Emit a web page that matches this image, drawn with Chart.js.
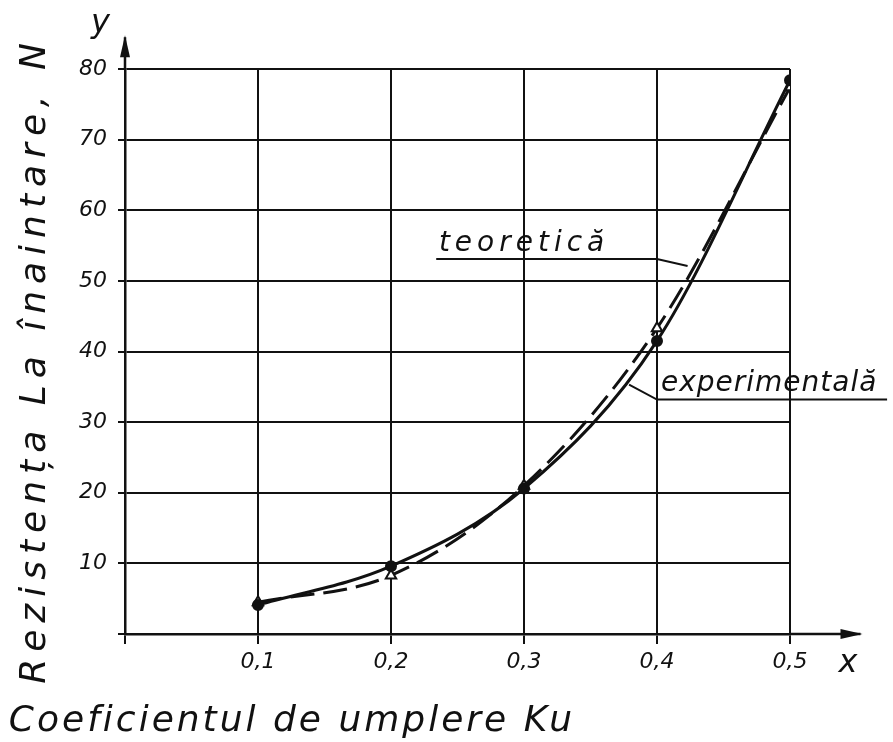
<!DOCTYPE html>
<html>
<head>
<meta charset="utf-8">
<script src="https://cdn.jsdelivr.net/npm/chart.js@4.4.1/dist/chart.umd.min.js"></script>
<style>
  html, body { margin: 0; padding: 0; background: #fff; }
  #wrap { width: 893px; height: 742px; }
</style>
</head>
<body>
<div id="wrap"><canvas id="ResChart"></canvas></div>
<script>
// fill coefficient Ku
const ku = [0.1, 0.2, 0.3, 0.4, 0.5];
// resistance, N
const teoretica = [4.1, 9.6, 20.6, 41.5, 78.4];
const experimentala = [4.5, 8.3, 21.0, 43.3, 77.4];

const yTitle = 'Rezistența La înaintare, N';
const xTitle = 'Coeficientul de umplere Ku';

const ink = '#111';
const font = 'DejaVu Sans';

function pts(ys) {
    return ku.map((x, i) => ({ x: x, y: ys[i] }));
}

// arrows, axis letters, titles, callout labels
const drawing = {
    id: 'drawing',
    afterDraw(chart) {
        const ctx = chart.ctx;
        const xs = chart.scales.x;
        const ys = chart.scales.y;
        const a = chart.chartArea;
        ctx.save();
        ctx.strokeStyle = ink;
        ctx.fillStyle = ink;
        ctx.lineWidth = 2.5;

        // axis extensions with arrows
        const xEnd = xs.getPixelForValue(0.553);
        const yEnd = ys.getPixelForValue(84.5);
        ctx.beginPath();
        ctx.moveTo(a.right, a.bottom); ctx.lineTo(xEnd, a.bottom);
        ctx.moveTo(a.left, a.top); ctx.lineTo(a.left, yEnd);
        ctx.stroke();
        ctx.beginPath();
        ctx.moveTo(xEnd + 2, a.bottom);
        ctx.lineTo(xEnd - 20, a.bottom - 5);
        ctx.lineTo(xEnd - 20, a.bottom + 5);
        ctx.closePath(); ctx.fill();
        ctx.beginPath();
        ctx.moveTo(a.left, yEnd - 2);
        ctx.lineTo(a.left - 5, yEnd + 20);
        ctx.lineTo(a.left + 5, yEnd + 20);
        ctx.closePath(); ctx.fill();

        // axis letters
        ctx.font = 'italic 32px "' + font + '"';
        ctx.textAlign = 'left';
        ctx.textBaseline = 'alphabetic';
        ctx.fillText('y', a.left - 34, 32);
        ctx.fillText('x', xEnd - 22, a.bottom + 38);

        // axis titles
        ctx.font = 'italic 36px "' + font + '"';
        ctx.textAlign = 'center';
        ctx.letterSpacing = '3px';
        ctx.fillText(xTitle, 292, 731);
        ctx.letterSpacing = '7px';
        ctx.translate(45, 360);
        ctx.rotate(-Math.PI / 2);
        ctx.fillText(yTitle, 0, 0);
        ctx.setTransform(1, 0, 0, 1, 0, 0);

        // callout labels
        ctx.font = 'italic 28px "' + font + '"';
        ctx.textAlign = 'left';
        ctx.lineWidth = 2;
        const px = v => xs.getPixelForValue(v);
        const py = v => ys.getPixelForValue(v);
        ctx.letterSpacing = '5px';
        ctx.fillText('teoretică', px(0.236), py(54.2));
        ctx.beginPath();
        ctx.moveTo(px(0.234), py(53.1)); ctx.lineTo(px(0.4), py(53.1));
        ctx.lineTo(px(0.423), py(52.1));
        ctx.stroke();
        ctx.letterSpacing = '1px';
        ctx.fillText('experimentală', px(0.403), py(34.4));
        ctx.beginPath();
        ctx.moveTo(px(0.573), py(33.2)); ctx.lineTo(px(0.4), py(33.2));
        ctx.lineTo(px(0.379), py(35.3));
        ctx.stroke();
        ctx.letterSpacing = '0px';
        ctx.restore();
    }
};

const res = document.getElementById('ResChart').getContext('2d');
const resChart = new Chart(res, {
    type: 'line',
    data: {
        datasets: [{
            label: 'teoretică',
            data: pts(teoretica),
            borderColor: ink,
            backgroundColor: ink,
            borderWidth: 3,
            pointStyle: 'circle',
            pointRadius: 4.5,
            cubicInterpolationMode: 'monotone'
        },
        {
            label: 'experimentală',
            data: pts(experimentala),
            borderColor: ink,
            backgroundColor: '#fff',
            borderWidth: 3,
            borderDash: [24, 9],
            pointStyle: 'triangle',
            pointRadius: 6,
            pointBorderWidth: 2,
            cubicInterpolationMode: 'monotone'
        }]
    },
    options: {
        responsive: true,
        maintainAspectRatio: false,
        animation: false,
        layout: { padding: { top: 69, right: 103 } },
        plugins: { legend: { display: false }, tooltip: { enabled: false } },
        scales: {
            x: {
                type: 'linear',
                min: 0,
                max: 0.5,
                afterFit: s => { s.height = 108; },
                border: { display: true, color: ink, width: 2.5 },
                grid: { color: ink, lineWidth: 2, tickLength: 10, tickColor: ink },
                ticks: {
                    stepSize: 0.1,
                    color: ink,
                    padding: 5,
                    font: { family: font, size: 22, style: 'italic' },
                    callback: v => v === 0 ? '' : v.toFixed(1).replace('.', ',')
                }
            },
            y: {
                min: 0,
                max: 80,
                afterFit: s => { s.width = 125; },
                border: { display: true, color: ink, width: 2.5 },
                grid: { color: ink, lineWidth: 2, tickLength: 7, tickColor: ink },
                ticks: {
                    stepSize: 10,
                    color: ink,
                    padding: 11,
                    font: { family: font, size: 22, style: 'italic' },
                    callback: v => v === 0 ? '' : v
                }
            }
        }
    },
    plugins: [drawing]
});
</script>
</body>
</html>
